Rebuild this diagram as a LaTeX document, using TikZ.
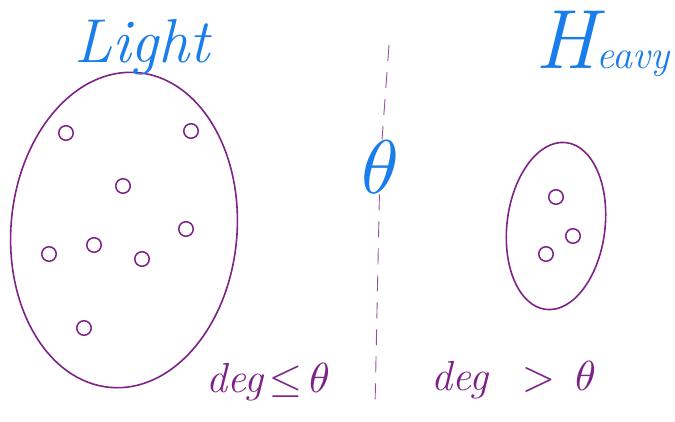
\documentclass[tikz,border=0pt]{standalone}
\usepackage{amsmath, amssymb}
\usepackage{unicode-math}
\usepackage{tikz}
\usetikzlibrary{shapes.geometric,calc,positioning}
\definecolor{penpurple}{RGB}{125,35,135}
\definecolor{penblue}{RGB}{25,125,235}

\begin{document}
\begin{tikzpicture}[x=1pt,y=-1pt,
        vertex/.style={circle, draw=penpurple, line width=1.5pt, minimum size=14.5pt, inner sep=0pt},
        blob/.style={ellipse, draw=penpurple, line width=1.6pt, inner sep=0pt},
        title/.style={text=penblue, inner sep=0pt, font=\itshape},
        cond/.style={text=penpurple, inner sep=0pt, font=\fontsize{42}{42}\selectfont\itshape}]
        \useasboundingbox (0,0) rectangle (675,421);
        %Sets
        \node[blob, minimum width=226pt, minimum height=316pt, rotate=-5] (light) at (124,230) {};
        \node[blob, minimum width=98pt, minimum height=168pt, rotate=-7] (heavy) at (556,226) {};
        %Titles
        \node[title, anchor=base west] (lighttxt) at (74,62) {\fontsize{62}{62}\selectfont Light};
        \node[title, anchor=base west] (heavytxt) at (535,68)
              {\fontsize{84}{84}\selectfont H\fontsize{40}{40}\selectfont eavy};
        %Threshold
        \coordinate (top) at (389,45);
        \coordinate (bot) at (375,407);
        \node[text=penblue, inner sep=0pt, font=\fontsize{76}{76}\selectfont] (theta) at (380,167) {$\theta$};
        \draw[penpurple!80, line width=0.9pt, dash pattern=on 16pt off 11pt] (top) -- (theta);
        \draw[penpurple!80, line width=0.9pt, dash pattern=on 16pt off 11pt] (theta) -- (bot);
        %Vertices
        \node[vertex] (v1) at (66,133) {};
        \node[vertex] (v2) at (191,131) {};
        \node[vertex] (v3) at (123,186) {};
        \node[vertex] (v4) at (49,254) {};
        \node[vertex] (v5) at (94,245) {};
        \node[vertex] (v6) at (142,259) {};
        \node[vertex] (v7) at (186,229) {};
        \node[vertex] (v8) at (84,328) {};
        \node[vertex] (w1) at (556,197) {};
        \node[vertex] (w2) at (573,236) {};
        \node[vertex] (w3) at (546,254) {};
        %Conditions
        \node[cond, anchor=base] (lcond) at (268,392) {deg\,$\leq$\,$\theta$};
        \node[cond, anchor=base] (hcond) at (514,390) {deg\hspace{0.8em}$>$\hspace{0.5em}$\theta$};
      \end{tikzpicture}
\end{document}
